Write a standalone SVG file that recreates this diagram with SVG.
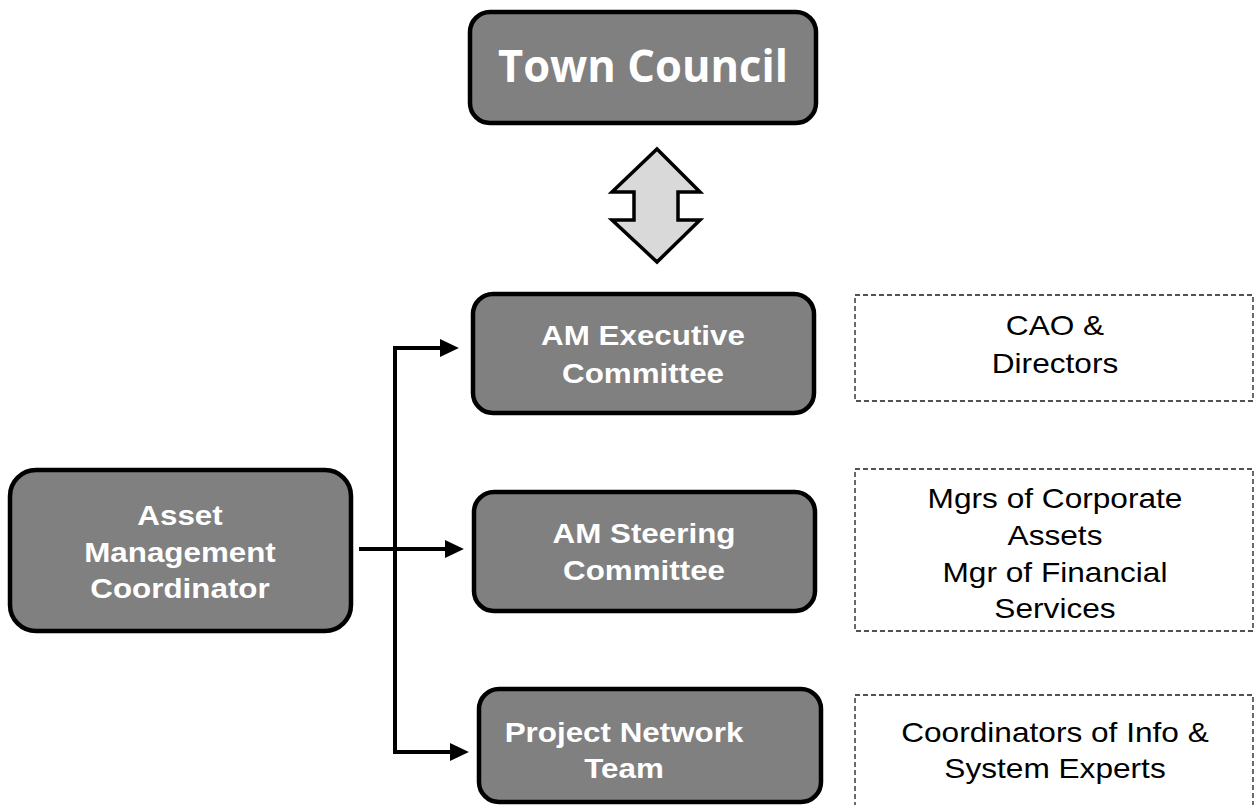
<svg xmlns="http://www.w3.org/2000/svg" width="1256" height="805" viewBox="0 0 1256 805">
  <defs>
    <style>
      .box { fill: #808080; stroke: #000; stroke-width: 4.5; }
      .note { fill: #fff; stroke: #1a1a1a; stroke-width: 1.3; stroke-dasharray: 5 3; }
      .lbl { font-family: "Liberation Sans", Arial, sans-serif; font-weight: bold; font-size: 28px; fill: #fff; text-anchor: middle; }
      .big { font-family: "Open Sans", "Liberation Sans", sans-serif; font-weight: bold; font-size: 44px; fill: #fff; text-anchor: middle; }
      .txt { font-family: "Liberation Sans", Arial, sans-serif; font-size: 28px; fill: #000; text-anchor: middle; }
      .conn { fill: none; stroke: #000; stroke-width: 4; }
    </style>
    <marker id="head" markerUnits="userSpaceOnUse" markerWidth="20" markerHeight="20" refX="0" refY="8" orient="auto" viewBox="0 0 18 16">
      <path d="M0,0 L17,8 L0,16 z" fill="#000"/>
    </marker>
  </defs>
  <rect width="1256" height="805" fill="#fff"/>

  <!-- connectors -->
  <g id="connectors">
    <path class="conn" d="M395,754 V348 H440" marker-end="url(#head)"/>
    <path class="conn" d="M395,348 V752 H450" marker-end="url(#head)"/>
    <path class="conn" d="M359,549 H445" marker-end="url(#head)"/>
    <polygon points="657,149 700,192 678,192 678,220 700,220 657,262 612,220 634,220 634,192 612,192" fill="#d9d9d9" stroke="#000" stroke-width="3.5" stroke-linejoin="miter"/>
  </g>

  <g id="town-council">
    <rect class="box" x="470" y="12" width="346" height="111" rx="20"/>
    <text class="big" x="643" y="82" textLength="290" lengthAdjust="spacingAndGlyphs">Town Council</text>
  </g>

  <g id="am-coordinator">
    <rect class="box" x="10" y="470" width="341" height="161" rx="26"/>
    <g transform="translate(180,0) scale(1.12,1)">
      <text class="lbl" x="0" y="525">Asset</text>
      <text class="lbl" x="0" y="562">Management</text>
      <text class="lbl" x="0" y="598">Coordinator</text>
    </g>
  </g>

  <g id="am-executive">
    <rect class="box" x="473" y="294" width="341" height="119" rx="20"/>
    <g transform="translate(643,0) scale(1.12,1)">
      <text class="lbl" x="0" y="345">AM Executive</text>
      <text class="lbl" x="0" y="383">Committee</text>
    </g>
  </g>

  <g id="am-steering">
    <rect class="box" x="474" y="492" width="341" height="119" rx="20"/>
    <g transform="translate(644,0) scale(1.12,1)">
      <text class="lbl" x="0" y="543">AM Steering</text>
      <text class="lbl" x="0" y="580">Committee</text>
    </g>
  </g>

  <g id="project-network">
    <rect class="box" x="479" y="689" width="342" height="113" rx="20"/>
    <g transform="translate(624,0) scale(1.12,1)">
      <text class="lbl" x="0" y="742">Project Network</text>
      <text class="lbl" x="0" y="778">Team</text>
    </g>
  </g>

  <g id="note-executive">
    <rect class="note" x="855" y="295" width="398" height="106"/>
    <g transform="translate(1055,0) scale(1.13,1)">
      <text class="txt" x="0" y="335">CAO &amp;</text>
      <text class="txt" x="0" y="373">Directors</text>
    </g>
  </g>

  <g id="note-steering">
    <rect class="note" x="855" y="469" width="398" height="162"/>
    <g transform="translate(1055,0) scale(1.13,1)">
      <text class="txt" x="0" y="508">Mgrs of Corporate</text>
      <text class="txt" x="0" y="545">Assets</text>
      <text class="txt" x="0" y="582">Mgr of Financial</text>
      <text class="txt" x="0" y="618">Services</text>
    </g>
  </g>

  <g id="note-network">
    <rect class="note" x="855" y="695" width="398" height="130"/>
    <g transform="translate(1055,0) scale(1.13,1)">
      <text class="txt" x="0" y="742">Coordinators of Info &amp;</text>
      <text class="txt" x="0" y="778">System Experts</text>
    </g>
  </g>
</svg>
